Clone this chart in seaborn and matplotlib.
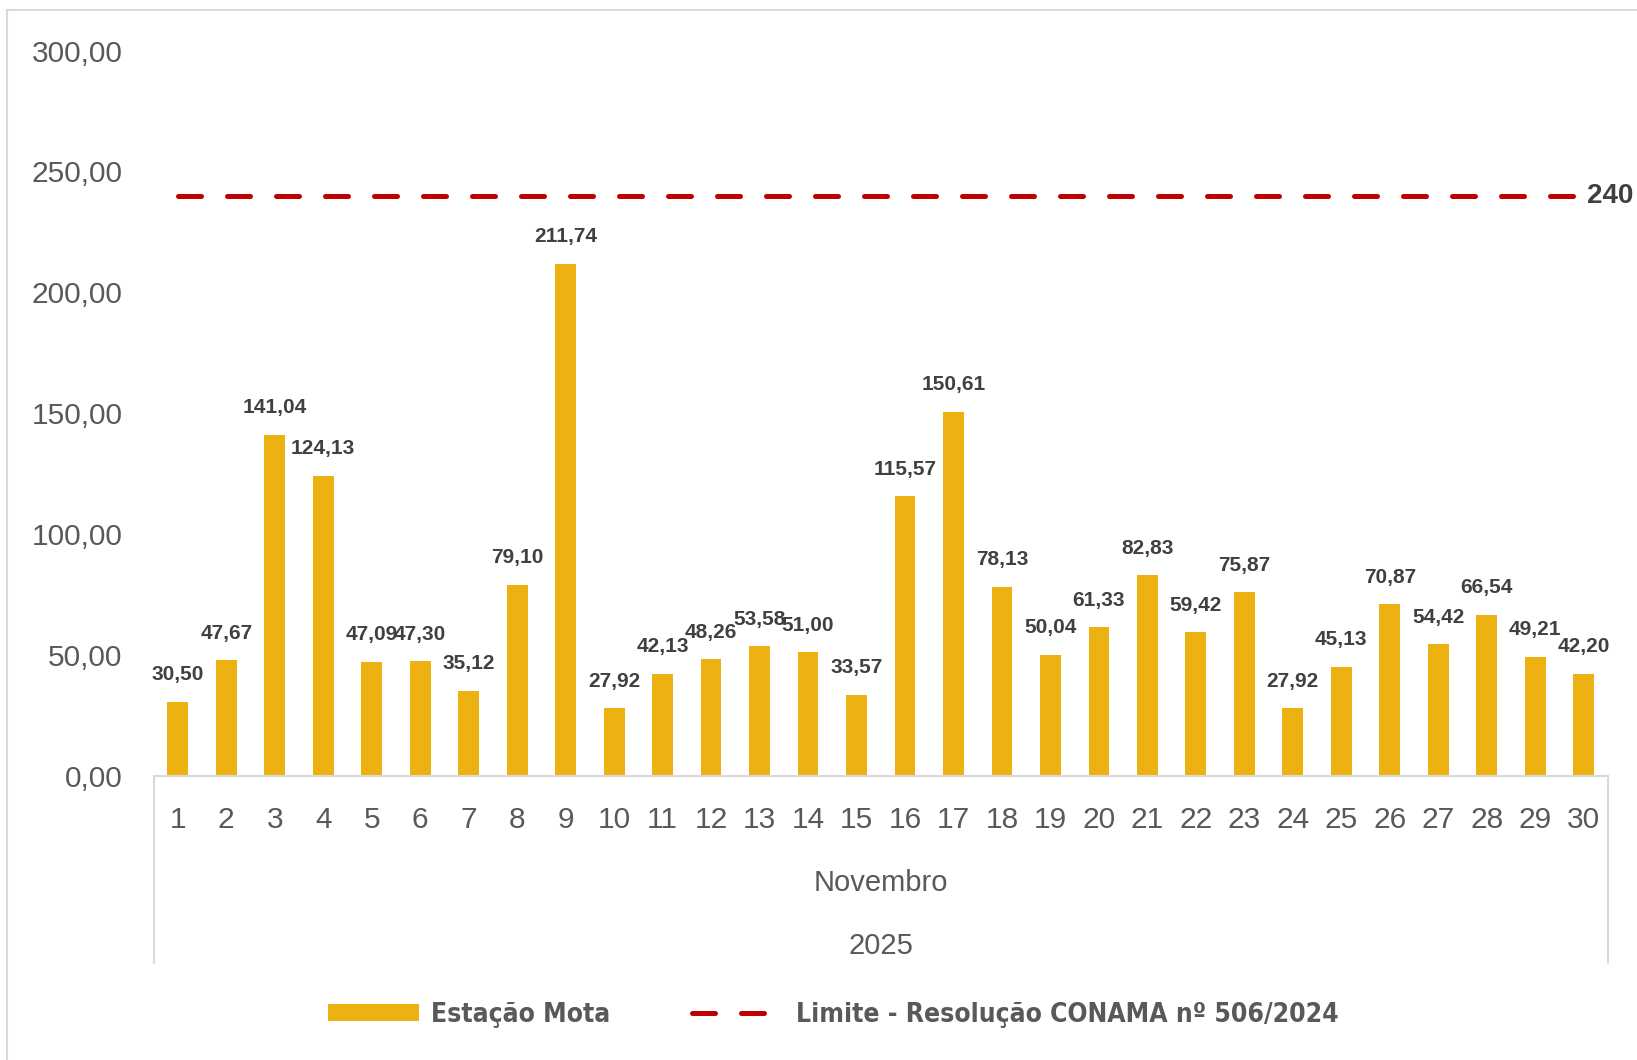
import numpy as np
import matplotlib.pyplot as plt
import seaborn as sns
from matplotlib.lines import Line2D
from matplotlib.patches import Patch, Rectangle
from matplotlib.ticker import FuncFormatter

# dados - Estação Mota, novembro 2025
dias = [str(d) for d in range(1, 31)]
estacao_mota = [30.50, 47.67, 141.04, 124.13, 47.09, 47.30, 35.12, 79.10, 211.74, 27.92,
                42.13, 48.26, 53.58, 51.00, 33.57, 115.57, 150.61, 78.13, 50.04, 61.33,
                82.83, 59.42, 75.87, 27.92, 45.13, 70.87, 54.42, 66.54, 49.21, 42.20]
limite = [240] * len(dias)
mes = 'Novembro'
ano = '2025'
serie_nome = 'Estação Mota'
limite_nome = 'Limite - Resolução CONAMA nº 506/2024'

ouro = '#EDB111'
vermelho = '#C00000'
cinza_txt = '#595959'
cinza_lbl = '#404040'
cinza_linha = '#D9D9D9'

sns.set_theme(style='white')
plt.rcParams['font.family'] = ['Liberation Sans', 'DejaVu Sans']

W, H = 1637, 1060
fig = plt.figure(figsize=(W / 100, H / 100), dpi=100)
ax_l, ax_r, ax_b, ax_t = 153.5, 1608, 775.7, 50.6
ax = fig.add_axes([ax_l / W, 1 - ax_b / H, (ax_r - ax_l) / W, (ax_b - ax_t) / H])

sns.barplot(x=dias, y=estacao_mota, order=dias, color=ouro, saturation=1,
            width=0.43, linewidth=0, ax=ax)

# linha do limite
ax.plot(range(len(dias)), limite, color=vermelho, lw=3.6, dashes=(4.6, 5.2),
        dash_capstyle='round', clip_on=False)
ax.annotate(str(limite[-1]), (len(dias) - 1, limite[-1]), xytext=(2, 0),
            textcoords='offset points', ha='left', va='center',
            fontsize=20, fontweight='bold', color=cinza_lbl, annotation_clip=False)

# rótulos dos dados
for i, v in enumerate(estacao_mota):
    ax.annotate(f'{v:.2f}'.replace('.', ','), (i, v), xytext=(0, 15.5),
                textcoords='offset points', ha='center', va='baseline',
                fontsize=15, fontweight='bold', color=cinza_lbl)

ax.set_xlim(-0.5, len(dias) - 0.5)
ax.set_ylim(0, 300)
ax.set_yticks(range(0, 301, 50))
ax.yaxis.set_major_formatter(FuncFormatter(lambda v, p: f'{v:.2f}'.replace('.', ',')))
ax.tick_params(axis='y', length=0, pad=22.5, labelsize=21.5, labelcolor=cinza_txt)
ax.tick_params(axis='x', length=0, pad=22, labelsize=21.5, labelcolor=cinza_txt)
ax.set_xlabel('')
ax.set_ylabel('')
ax.grid(False)
for s in ['left', 'right', 'top']:
    ax.spines[s].set_visible(False)
ax.spines['bottom'].set_color(cinza_linha)
ax.spines['bottom'].set_linewidth(1.5)

# eixo de categorias em níveis (mês / ano)
fig.text((ax_l + ax_r) / 2 / W, 1 - 883 / H, mes, ha='center', va='center',
         fontsize=21, color=cinza_txt)
fig.text((ax_l + ax_r) / 2 / W, 1 - 946 / H, ano, ha='center', va='center',
         fontsize=21, color=cinza_txt)
for xx in [ax_l, ax_r]:
    fig.add_artist(Line2D([xx / W, xx / W], [1 - ax_b / H, 1 - 963 / H],
                          color=cinza_linha, lw=1.5))

# moldura
fig.add_artist(Rectangle((7 / W, -0.1), 2, 1.1 - 10 / H, fill=False,
                         edgecolor=cinza_linha, lw=1.5))

# legenda
handles = [Patch(facecolor=ouro, edgecolor='none'),
           Line2D([], [], color=vermelho, lw=3.6, dashes=(4.6, 5.2), dash_capstyle='round')]
fig.legend(handles, [serie_nome, limite_nome], loc='center',
           bbox_to_anchor=(833 / W, 1 - 1015 / H), ncol=2, frameon=False,
           handlelength=3.45, handleheight=0.64, handletextpad=0.47, columnspacing=3.1,
           prop={'family': 'DejaVu Sans', 'stretch': 'condensed', 'weight': 'bold', 'size': 19},
           labelcolor=cinza_txt)

plt.savefig('out.png', dpi=100)
